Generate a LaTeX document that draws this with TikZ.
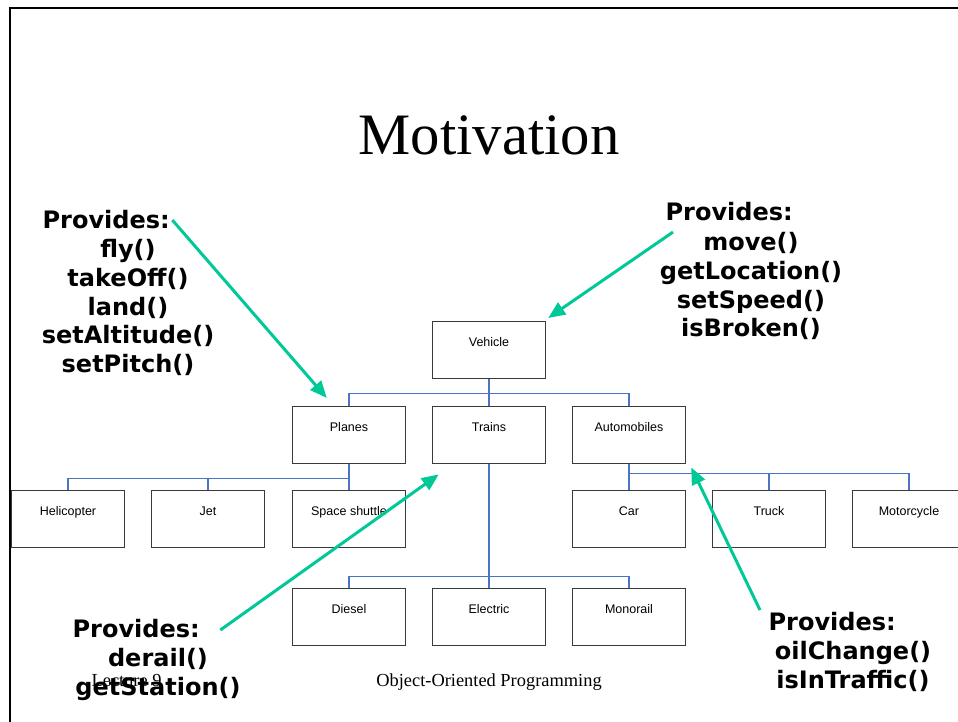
\documentclass[tikz,border=0pt]{standalone}
\usepackage{fontspec}
\setmainfont{Liberation Serif}
\setsansfont{Liberation Sans}
\newfontfamily\provfont{DejaVu Sans}
\usetikzlibrary{arrows.meta, positioning, calc}
\definecolor{cblue}{HTML}{4A74C4}
\definecolor{cgreen}{HTML}{00C896}
\definecolor{cframe}{HTML}{3A3A3A}
\tikzset{
  every picture/.style={line width=1.2pt},
  classbox/.style={draw=cframe, line width=1.4pt, minimum width=113pt, inner xsep=0pt, inner ysep=0pt,
    text height=25pt, text depth=32pt, font=\sffamily\fontsize{12.5}{14}\selectfont},
  tree/.style={draw=cblue, line width=1.2pt},
  pointer/.style={-{Triangle[length=17pt, width=14pt]}, draw=cgreen, line width=3pt},
  provhead/.style={anchor=base west, inner sep=0pt, font=\provfont\bfseries\fontsize{24}{28.7}\selectfont},
  provlist/.style={anchor=north, inner sep=0pt, align=center, font=\provfont\bfseries\fontsize{24}{28.7}\selectfont},
}

\begin{document}
\begin{tikzpicture}[x=1pt, y=-1pt]
  \useasboundingbox (0,0) rectangle (958,722);
  % slide frame
  \draw[line width=2.2pt] (10,722) -- (10,8) -- (958,8);
  \node[anchor=base, font=\fontsize{58.7}{60}\selectfont] (title) at (489,155) {Motivation};
  % footer
  \node[anchor=base west, inner sep=0pt, font=\fontsize{18.4}{20}\selectfont] (lecture) at (91,686) {Lecture 9};
  \node[anchor=base, inner sep=0pt, font=\fontsize{18.4}{20}\selectfont] (course) at (489,686) {Object-Oriented Programming};
  % class boxes
  \foreach \name/\txt/\x/\y in {vehicle/Vehicle/489/321,
      planes/Planes/349/406, trains/Trains/489/406, autos/Automobiles/629/406,
      heli/Helicopter/68/490, jet/Jet/208/490, shuttle/Space shuttle/349/490,
      car/Car/629/490, truck/Truck/769/490, moto/Motorcycle/909/490,
      diesel/Diesel/349/588, electric/Electric/489/588, monorail/Monorail/629/588} {
    \node[classbox, anchor=north] (\name) at (\x,\y) {\txt};
  }
  % hierarchy
  \foreach \kid in {planes, trains, autos}
    \draw[tree] (vehicle.south) -- ++(0,14) -| (\kid.north);
  \foreach \kid in {heli, jet, shuttle}
    \draw[tree] (planes.south) -- ++(0,14) -| (\kid.north);
  \foreach \kid in {car, truck, moto}
    \draw[tree] (autos.south) -- ++(0,9) -| (\kid.north);
  \foreach \kid in {diesel, electric, monorail}
    \draw[tree] (trains.south) -- ++(0,112) -| (\kid.north);
  % what each class provides
  \node[provhead] (provPlanes) at (42,229) {Provides:};
  \node[provlist] (listPlanes) at (128,239) {fly()\\takeOff()\\land()\\setAltitude()\\setPitch()};
  \node[provhead] (provVehicle) at (665,221) {Provides:};
  \node[provlist] (listVehicle) at (751,232) {move()\\getLocation()\\setSpeed()\\isBroken()};
  \node[provhead] (provTrains) at (72,637) {Provides:};
  \node[provlist] (listTrains) at (158,648) {derail()\\getStation()};
  \node[provhead] (provAutos) at (768,630) {Provides:};
  \node[provlist] (listAutos) at (853,641) {oilChange()\\isInTraffic()};
  % arrows
  \draw[pointer] ([xshift=2pt]provPlanes.east) -- ([xshift=35pt, yshift=8pt]planes.north west);
  \draw[pointer] ([xshift=8pt, yshift=-20pt]provVehicle.west) -- ([xshift=2pt, yshift=3pt]vehicle.north east);
  \draw[pointer] ([xshift=20pt, yshift=-2pt]provTrains.east) -- ([xshift=7pt, yshift=-10pt]trains.south west);
  \draw[pointer] ([xshift=-8pt, yshift=11pt]provAutos.west) -- ([xshift=5pt, yshift=-3pt]autos.south east);
\end{tikzpicture}
\end{document}
